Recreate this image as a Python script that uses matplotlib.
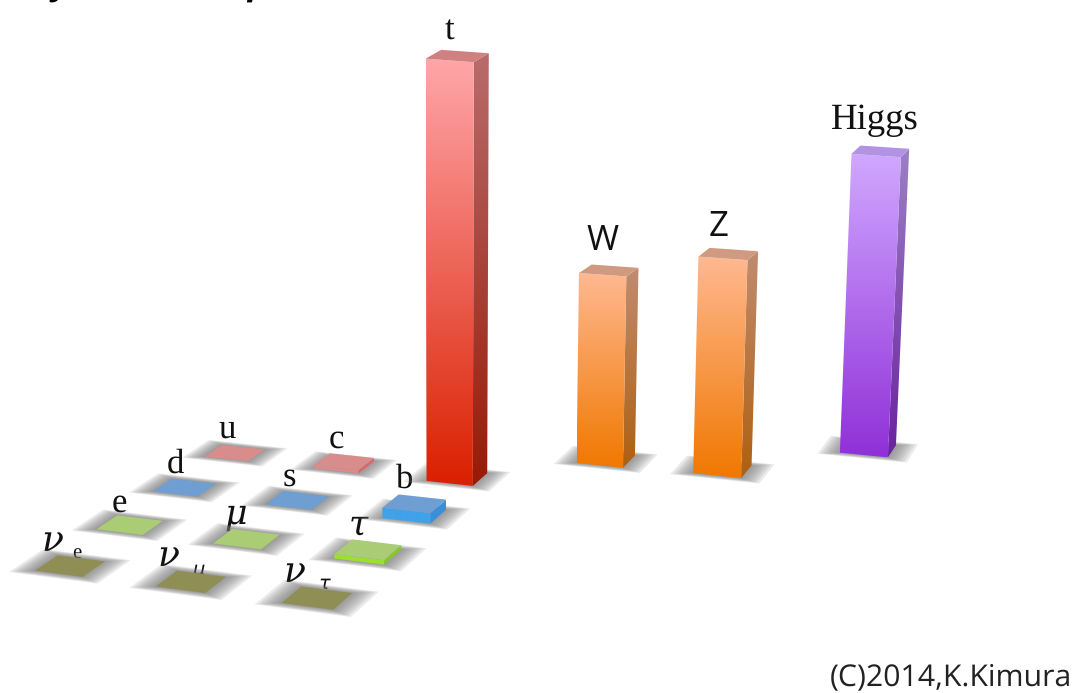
import numpy as np
import matplotlib
matplotlib.use('Agg')
import matplotlib.pyplot as plt
from matplotlib.patches import Polygon

plt.rcParams['text.hinting'] = 'no_hinting'

# particle masses in GeV, arranged on a floor grid (generation, row)
names = ['u', 'c', 't', 'd', 's', 'b', 'e', 'mu', 'tau', 'nu_e', 'nu_mu', 'nu_tau', 'W', 'Z', 'Higgs']
masses = [0.002, 1.27, 174.0, 0.005, 0.1, 4.2, 0.0005, 0.106, 1.78, 0.0, 0.0, 0.0, 78.0, 89.0, 123.0]
gen = [0, 1, 2, 0, 1, 2, 0, 1, 2, 0, 1, 2, 3.01, 3.99, 5.0]
row = [0, 0, 0, 1, 1, 1, 2, 2, 2, 3, 3, 3, -0.87, -0.92, -1.87]

# colours: front top, front bottom, side top, side bottom, cap
red_tile = ('#D88C8C', '#D88C8C', '#E06464', '#E06464', '#D88C8C')
blue_tile = ('#3FA2EA', '#3FA2EA', '#3A8FD8', '#3A8FD8', '#6F9FD2')
green_tile = ('#9CE030', '#9CE030', '#86C82C', '#86C82C', '#A9CC74')
olive_tile = ('#8F8F55', '#8F8F55', '#8F8F55', '#8F8F55', '#8F8F55')
top_col = ('#FFA6AA', '#DA2000', '#B86C6C', '#981A06', '#D08080')
wz_col = ('#FFB890', '#F07800', '#C08C70', '#AE6010', '#D09A80')
h_col = ('#D0A8FF', '#9030D8', '#9C80C4', '#6A22A0', '#B292E2')
styles = [red_tile, red_tile, top_col, blue_tile, blue_tile, blue_tile,
          green_tile, green_tile, green_tile, olive_tile, olive_tile, olive_tile,
          wz_col, wz_col, h_col]

# floor grid corners on the canvas, used to build the perspective mapping
src = [(0, 0), (2, 0), (0, 3), (2, 3)]
dst = [(235, 453), (457, 477), (70, 566), (317, 598)]
PX_PER_GEV = 2.42
HALF_W, HALF_D = 0.2, 0.18
X_VANISH, LEAN = 450, 1e-4


def fit_floor(src, dst):
    A, b = [], []
    for (u, v), (x, y) in zip(src, dst):
        A.append([u, v, 1, 0, 0, 0, -u*x, -v*x])
        A.append([0, 0, 0, u, v, 1, -u*y, -v*y])
        b += [x, y]
    return np.append(np.linalg.solve(np.array(A, float), np.array(b, float)), 1).reshape(3, 3)


H = fit_floor(src, dst)


def project(g, r, z=0.0):
    px = H @ np.array([g, r, 1.0])
    x, y = px[0]/px[2], px[1]/px[2]
    h = z*PX_PER_GEV
    return (X_VANISH + (x - X_VANISH)*(1 + LEAN*h), y - h)


def footprint(g, r, hw, hd, z=0.0):
    # front-left, front-right, back-right, back-left
    pts = [project(g-hw, r+hd, z), project(g+hw, r+hd, z), project(g+hw, r-hd, z), project(g-hw, r-hd, z)]
    # tall bar tops flatten out a little towards the horizon
    squash = 1 - 0.3*min(z*PX_PER_GEV/100, 1)
    yc = sum(p[1] for p in pts)/4
    return [(x, yc + (y-yc)*squash) for x, y in pts]


def gradient_face(ax, pts, c_top, c_bot, zorder):
    poly = Polygon(pts, closed=True, fc='none', ec='none', zorder=zorder)
    ax.add_patch(poly)
    c0 = np.array(matplotlib.colors.to_rgb(c_top))
    c1 = np.array(matplotlib.colors.to_rgb(c_bot))
    t = np.linspace(0, 1, 256)[:, None, None]
    img = c0[None, None, :]*(1-t) + c1[None, None, :]*t
    xs, ys = zip(*pts)
    im = ax.imshow(img, extent=(min(xs), max(xs), max(ys), min(ys)), aspect='auto',
                   interpolation='bilinear', zorder=zorder)
    im.set_clip_path(poly)


def draw_shadow(ax, g, r, zorder):
    for k in range(8):
        f = k/7
        pts = footprint(g, r, HALF_W + 0.17*(1-f), HALF_D + 0.09*(1-f))
        ax.add_patch(Polygon(pts, closed=True, fc='#747474', ec='none', alpha=0.15, zorder=zorder))


def draw_bar(ax, g, r, mass, col, zorder):
    draw_shadow(ax, g, r, zorder)
    base = footprint(g, r, HALF_W, HALF_D)
    top = footprint(g, r, HALF_W, HALF_D, mass)
    gradient_face(ax, [base[1], base[2], top[2], top[1]], col[2], col[3], zorder+0.1)
    gradient_face(ax, [base[0], base[1], top[1], top[0]], col[0], col[1], zorder+0.2)
    ax.add_patch(Polygon(top, closed=True, fc=col[4], ec='none', zorder=zorder+0.3))


fig = plt.figure(figsize=(10.74, 6.93), dpi=100)
ax = fig.add_axes([0, 0, 1, 1])

# back to front so nearer bars paint over farther ones
order = sorted(range(len(names)), key=lambda i: row[i])
for n, i in enumerate(order):
    draw_bar(ax, gen[i], row[i], masses[i], styles[i], n+1)

ax.set_xlim(0, 1074)
ax.set_ylim(693, 0)
ax.axis('off')

SERIF = 'Liberation Serif'
SANS = 'Open Sans'
GREEK = 'DejaVu Serif'
labels = [('t', 449, 31, SERIF, 'normal', 25), ('u', 227, 429, SERIF, 'normal', 25),
          ('c', 336, 439, SERIF, 'normal', 25), ('d', 175, 464, SERIF, 'normal', 25),
          ('s', 289, 477, SERIF, 'normal', 25), ('b', 405, 479, SERIF, 'normal', 25),
          ('e', 119, 503, SERIF, 'normal', 25), ('μ', 236, 514, GREEK, 'italic', 25),
          ('τ', 358, 525, GREEK, 'italic', 25), ('ν', 52, 541, GREEK, 'italic', 26),
          ('e', 77, 554, SERIF, 'normal', 15), ('ν', 168, 556, GREEK, 'italic', 26),
          ('μ', 198, 570, 'DejaVu Sans', 'italic', 14), ('ν', 294, 572, GREEK, 'italic', 26),
          ('τ', 324, 584, 'DejaVu Sans', 'italic', 14), ('W', 603, 241, SANS, 'normal', 25),
          ('Z', 719, 227, SANS, 'normal', 25), ('Higgs', 875, 120, SERIF, 'normal', 26.5)]
for s, x, y, fam, style, size in labels:
    ax.text(x, y, s, family=fam, style=style, fontsize=size, color='#111111',
            ha='center', va='center')
ax.text(1072, 677, '(C)2014,K.Kimura', family=SANS, fontsize=21.8, color='#222222',
        ha='right', va='center')

# descenders of the heading line, which runs off the top edge
for s, x in [('y', 60), ('p', 257)]:
    ax.text(x, -6, s, family=SANS, weight='bold', style='italic', fontsize=25,
            color='black', ha='center', va='baseline', clip_on=False)

fig.savefig('out.png', dpi=100)
